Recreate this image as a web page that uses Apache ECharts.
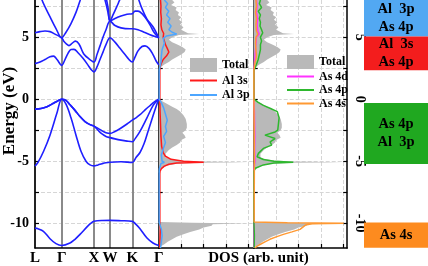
<!DOCTYPE html>
<html><head><meta charset="utf-8">
<script src="https://cdn.jsdelivr.net/npm/echarts@6.0.0/dist/echarts.min.js"></script>
<style>html,body{margin:0;padding:0;background:#fff}#c{width:428px;height:266px}</style>
</head><body><div id="c"></div>
<script>
// ---- k-path ----
const kTicks = [0, 26.7, 59, 75, 97.3, 123.7];
const kLabels = ['L', 'Γ', 'X', 'W', 'K', 'Γ'];
// ---- energy axis ----
const energyLabels = [-10, -5, 0, 5];
const energyGrid = [-10, -7.5, -5, -2.5, 0, 2.5, 5, 7.5];
const dosTicks = [1, 2, 3, 4];

// ---- bands [k, E(eV)] ----
const band1 = [[0,-10.4],[3,-10.45],[8.4,-10.65],[15,-11.25],[21,-11.65],[26.7,-11.8],[35,-11.6],[40,-11.3],[45,-10.9],[52,-10.3],[56,-10.0],[59,-9.85],[67,-9.78],[75,-9.77],[86,-9.8],[97.3,-9.85],[101,-10.1],[105,-10.45],[112,-11.2],[118,-11.6],[123.7,-11.8]];
const band2 = [[0,-5.4],[3,-5.1],[8.6,-4.2],[15,-2.9],[22,-1.1],[26.7,0],[31,-0.4],[36,-1.5],[41,-2.9],[46,-4.2],[51,-5.0],[55,-5.3],[59,-5.38],[63,-5.3],[67,-5.2],[71,-5.12],[75,-5.08],[86,-5.05],[97.3,-5.1],[101,-4.7],[105,-4.3],[109,-3.6],[113,-2.6],[117,-1.6],[121,-0.6],[123.7,0]];
const band3 = [[0,-0.8],[6,-0.75],[12,-0.6],[18,-0.35],[23,-0.12],[26.7,0],[31,-0.1],[35,-0.45],[40,-0.9],[45,-1.4],[50,-1.8],[55,-2.05],[59,-2.17],[63,-2.5],[67,-2.8],[71,-3.0],[75,-3.1],[80,-3.2],[86,-3.3],[92,-3.38],[97.3,-3.43],[100,-3.2],[105,-2.6],[111.7,-1.55],[118.3,-0.48],[123.7,0]];
const band4 = [[0,-0.8],[6,-0.75],[12,-0.6],[18,-0.35],[23,-0.12],[26.7,0],[31,-0.1],[35,-0.45],[40,-0.9],[45,-1.4],[50,-1.8],[55,-2.05],[59,-2.17],[63,-2.35],[67,-2.55],[71,-2.7],[75,-2.76],[80,-2.6],[85.3,-2.36],[92,-2.0],[97.3,-1.69],[101,-1.5],[105,-1.25],[109,-0.95],[113,-0.65],[117,-0.38],[120,-0.17],[123.7,0]];
const band5 = [[0,2.87],[5,3.0],[10,3.2],[15,3.42],[18.5,3.47],[22,3.2],[26.7,2.73],[30,3.2],[33,3.7],[36,4.0],[39,4.02],[43,3.75],[48,3.3],[53,2.75],[56,2.4],[59,2.2],[62,2.6],[65,3.2],[68,3.8],[71,4.4],[75,4.95],[80,4.6],[85,4.1],[90,3.6],[94,3.2],[97.3,3.0],[100,3.4],[103,3.9],[107,4.25],[110,4.3],[114,4.1],[118,3.6],[121,3.1],[123.7,2.78]];
const band6 = [[0,5.36],[5,5.45],[10,5.5],[15,5.45],[20,5.25],[26.7,4.95],[29,4.65],[31.3,4.47],[34,4.32],[37,4.5],[40.3,4.68],[44,4.45],[48.6,3.67],[54,3.25],[59,3.0],[62,3.6],[65,4.3],[68,5.0],[71,5.6],[75,6.3],[80,5.94],[86,5.75],[95,5.68],[97.3,5.68],[103,5.6],[109,5.4],[115,5.2],[120,5.05],[123.7,4.95]];
const band7 = [[0,9.8],[7,8.0],[15.3,6.6],[21,5.7],[26.7,4.95],[31,5.4],[36,6.1],[41,7.0],[45.3,8.0],[50,9.0],[59,10.0],[65,9.2],[70,8.0],[73,7.0],[75,6.3],[78,6.8],[82,7.5],[86,8.2],[97.3,9.5],[103,8.2],[107,7.3],[111.7,6.5],[118.3,5.8],[123.7,4.95]];
const band8 = [[62,11],[70,8.6],[73,7.4],[75,6.3],[80,6.5],[86,6.7],[92,6.85],[97.3,6.9],[100,7.1],[103,7.1],[107,6.9],[111,6.5],[115,6.0],[119,5.4],[123.7,4.95]];
const bands = [band1, band2, band3, band4, band5, band6, band7, band8];

// ---- DOS [E(eV), DOS] ----
const totalDOS = [[8.0,0.6],[7.8,0.7],[7.6,0.55],[7.4,0.8],[7.2,0.75],[7.0,0.9],[6.8,0.85],[6.6,1.0],[6.4,0.9],[6.2,1.05],[6.0,0.95],[5.8,1.1],[5.6,1.0],[5.45,1.15],[5.32,1.3],[5.26,1.8],[5.18,0.9],[5.0,0.6],[4.8,0.45],[4.6,0.6],[4.4,0.85],[4.2,1.05],[4.0,1.2],[3.8,1.15],[3.6,1.0],[3.4,0.8],[3.2,0.6],[3.0,0.45],[2.8,0.25],[2.6,0.1],[2.4,0.02],[2.3,0],[0,0],[-0.2,0.2],[-0.4,0.4],[-0.6,0.6],[-0.8,0.8],[-1.0,0.95],[-1.3,1.1],[-1.6,1.2],[-2.0,1.25],[-2.3,1.25],[-2.5,1.2],[-2.7,1.05],[-2.9,1.15],[-3.1,1.2],[-3.3,1.0],[-3.5,0.95],[-3.7,0.8],[-3.9,0.6],[-4.1,0.45],[-4.4,0.3],[-4.7,0.3],[-4.85,0.55],[-4.95,0.9],[-5.03,1.8],[-5.08,3.95],[-5.13,1.8],[-5.2,0.8],[-5.35,0.4],[-5.55,0.15],[-5.8,0.02],[-6.0,0],[-9.9,0],[-9.97,1.5],[-10.02,3.95],[-10.08,2.4],[-10.2,2.35],[-10.35,2.0],[-10.5,1.8],[-10.7,1.4],[-10.9,1.1],[-11.1,0.8],[-11.3,0.6],[-11.5,0.4],[-11.7,0.25],[-11.85,0.1],[-11.95,0]];
const al3s = [[8.0,0.08],[7.5,0.1],[7.0,0.09],[6.5,0.12],[6.0,0.1],[5.6,0.14],[5.3,0.22],[5.15,0.3],[5.0,0.2],[4.7,0.25],[4.4,0.3],[4.1,0.38],[3.8,0.45],[3.5,0.35],[3.2,0.2],[2.9,0.12],[2.6,0.06],[2.3,0.05],[0,0.05],[-1.0,0.06],[-2.0,0.08],[-3.0,0.1],[-3.8,0.13],[-4.3,0.2],[-4.6,0.3],[-4.85,0.55],[-5.0,1.1],[-5.08,2.0],[-5.15,0.8],[-5.25,0.45],[-5.4,0.25],[-5.6,0.12],[-5.8,0.06],[-6.0,0.05],[-9.9,0.05],[-10.0,0.08],[-10.5,0.07],[-11.0,0.06],[-11.5,0.05],[-12,0.05]];
const al3p = [[8.0,0.25],[7.7,0.4],[7.4,0.3],[7.1,0.45],[6.8,0.35],[6.5,0.5],[6.2,0.4],[5.9,0.55],[5.6,0.45],[5.4,0.6],[5.25,0.8],[5.1,0.35],[4.9,0.2],[4.5,0.25],[4.0,0.15],[3.5,0.12],[3.0,0.1],[2.6,0.05],[2.3,0.02],[0,0.02],[-0.3,0.12],[-0.7,0.22],[-1.2,0.3],[-1.7,0.38],[-2.2,0.3],[-2.6,0.35],[-3.0,0.22],[-3.5,0.3],[-4.0,0.2],[-4.5,0.12],[-5.0,0.15],[-5.08,0.25],[-5.2,0.1],[-5.6,0.03],[-6,0.02],[-9.9,0.02],[-10.0,0.06],[-10.5,0.12],[-11.0,0.15],[-11.5,0.12],[-12,0.08]];
const as4d = [[8,0.12],[7.5,0.15],[7,0.12],[6.5,0.18],[6,0.15],[5.5,0.18],[5.25,0.25],[5,0.12],[4.5,0.1],[4,0.08],[3.5,0.06],[3,0.04],[2.5,0.02],[2.3,0.01],[0,0.01],[-1,0.03],[-2,0.04],[-3,0.05],[-4,0.04],[-5,0.06],[-5.08,0.12],[-5.3,0.03],[-6,0.01],[-12,0.01]];
const as4p = [[8,0.3],[7.7,0.25],[7.4,0.35],[7.1,0.2],[6.8,0.3],[6.5,0.25],[6.2,0.3],[5.9,0.28],[5.6,0.35],[5.35,0.4],[5.22,0.45],[5.0,0.3],[4.7,0.35],[4.4,0.3],[4.0,0.3],[3.6,0.25],[3.2,0.2],[2.8,0.12],[2.5,0.05],[2.3,0.01],[0,0.01],[-0.25,0.2],[-0.5,0.43],[-0.75,0.75],[-1.0,1.05],[-1.5,1.13],[-2.0,1.1],[-2.5,1.07],[-2.64,0.95],[-2.9,0.5],[-3.17,0.95],[-3.44,0.73],[-3.7,0.8],[-3.97,0.43],[-4.37,0.21],[-4.64,0.15],[-4.86,0.43],[-5.0,0.9],[-5.08,1.76],[-5.15,0.9],[-5.3,0.43],[-5.57,0.07],[-5.8,0.01],[-9.9,0.01],[-10.0,0.03],[-11,0.03],[-12,0.02]];
const as4s = [[8,0.1],[7.5,0.12],[7,0.08],[6.5,0.12],[6,0.1],[5.5,0.12],[5.25,0.18],[5,0.1],[4.5,0.08],[4,0.1],[3.5,0.12],[3.2,0.1],[3,0.06],[2.6,0.03],[2.3,0.01],[0,0.01],[-5.08,0.03],[-9.9,0.02],[-9.96,1.5],[-10.0,4.0],[-10.05,2.6],[-10.15,2.3],[-10.3,2.25],[-10.5,2.06],[-10.7,1.7],[-10.9,1.32],[-11.1,1.0],[-11.3,0.72],[-11.5,0.5],[-11.7,0.3],[-11.85,0.15],[-12,0.05]];

// ---- orbital-character boxes (energy ranges) ----
const boxTop = [8.0, 5.05, -0.3, -9.95];
const boxBottom = [5.05, 2.33, -5.22, -11.98];
const boxLabels = ['Al  3p\nAs 4p', 'Al  3s\nAs 4p', 'As 4p\nAl  3p', 'As 4s'];

// ---- styles ----
const serif = "'Liberation Serif','Times New Roman',serif";
const boxColors = ['#52a8f2', '#f31d1d', '#20a820', '#fd8b1f'];
const pdosColors = {'Al 3s':'#ff1a1a','Al 3p':'#4da6ff','As 4d':'#ff33ff','As 4p':'#2eb82e','As 4s':'#ff9933'};
const gray = '#b9b9b9';
const axLine = {show:true, onZero:false, lineStyle:{color:'#000', width:1.5}};
const dashGrid = {show:true, lineStyle:{color:'#d6d6d6', type:'dashed', width:1}};
const labelFont = {fontFamily:serif, fontWeight:'bold', color:'#000'};

const chart = echarts.init(document.getElementById('c'), null, {renderer:'canvas'});

function dosPolygon(points) {
  return function (params, api) {
    const pts = [api.coord([0, points[0][0]])];
    points.forEach(p => pts.push(api.coord([p[1], p[0]])));
    pts.push(api.coord([0, points[points.length - 1][0]]));
    return {type:'polygon', shape:{points:pts}, style:{fill:gray}};
  };
}
function pdosLine(name, pts, xi, yi) {
  return {type:'line', name:name, xAxisIndex:xi, yAxisIndex:yi, data:pts.map(p => [p[1], p[0]]),
    symbol:'none', lineStyle:{color:pdosColors[name], width:1.5}, itemStyle:{color:pdosColors[name]},
    silent:true, animation:false, z:4};
}
function lineItem(name) {
  return {name:name, itemStyle:{opacity:0, borderWidth:0}, lineStyle:{width:2}};
}

const series = [];
bands.forEach(b => series.push({type:'line', xAxisIndex:0, yAxisIndex:0, data:b, smooth:0.35,
  symbol:'none', lineStyle:{color:'#1f1fff', width:1.6}, silent:true, animation:false, z:3}));
series.push({type:'custom', name:'Total', xAxisIndex:1, yAxisIndex:2, data:[[0,0]], renderItem:dosPolygon(totalDOS), itemStyle:{color:gray}, silent:true, animation:false, z:2});
series.push({type:'custom', name:'Total', xAxisIndex:2, yAxisIndex:3, data:[[0,0]], renderItem:dosPolygon(totalDOS), itemStyle:{color:gray}, silent:true, animation:false, z:2});
series.push(pdosLine('Al 3s', al3s, 1, 2));
series.push(pdosLine('Al 3p', al3p, 1, 2));
series.push(pdosLine('As 4d', as4d, 2, 3));
series.push(pdosLine('As 4p', as4p, 2, 3));
series.push(pdosLine('As 4s', as4s, 2, 3));
series.push({type:'custom', xAxisIndex:3, yAxisIndex:5, data:boxTop.map((t, i) => [0, t]), silent:true, animation:false,
  renderItem:function (params, api) {
    const i = params.dataIndex;
    const p1 = api.coord([0, boxTop[i]]), p2 = api.coord([1, boxBottom[i]]);
    return {type:'group', children:[
      {type:'rect', shape:{x:p1[0], y:p1[1], width:p2[0]-p1[0], height:p2[1]-p1[1]}, style:{fill:boxColors[i]}},
      {type:'text', x:(p1[0]+p2[0])/2, y:(p1[1]+p2[1])/2,
        style:{text:boxLabels[i], fill:'#000', fontFamily:serif, fontWeight:'bold', fontSize:14.5, lineHeight:18,
          align:'center', verticalAlign:'middle', textAlign:'center', textVerticalAlign:'middle'}}
    ]};
  }});

const legendCommon = {orient:'vertical', itemWidth:27, itemHeight:14, padding:0, selectedMode:false,
  textStyle:{fontFamily:serif, fontWeight:'bold', fontSize:12, color:'#000'}};

const option = {
  animation:false,
  backgroundColor:'#fff',
  grid:[
    {left:35, top:0, width:123.7, height:248, containLabel:false, outerBoundsMode:'none'},
    {left:158.7, top:0, width:95, height:248, containLabel:false, outerBoundsMode:'none'},
    {left:253.7, top:0, width:93.5, height:248, containLabel:false, outerBoundsMode:'none'},
    {left:364, top:0, width:64, height:248, containLabel:false, outerBoundsMode:'none'}
  ],
  xAxis:[
    {gridIndex:0, type:'value', min:0, max:123.7, position:'bottom', axisLine:axLine,
      axisTick:{show:false, customValues:kTicks},
      axisLabel:Object.assign({customValues:kTicks, margin:3, fontSize:15, showMinLabel:true, showMaxLabel:true,
        formatter:function (v) { const i = kTicks.indexOf(v); return i >= 0 ? kLabels[i] : ''; }}, labelFont),
      splitLine:{show:true, lineStyle:{color:'#8a8a8a', width:2}}},
    {gridIndex:1, type:'value', min:0, max:4.22, position:'bottom', axisLine:axLine,
      axisTick:{show:true, inside:true, length:4, customValues:dosTicks, lineStyle:{color:'#000', width:1.2}},
      axisLabel:{show:false}, splitLine:dashGrid},
    {gridIndex:2, type:'value', min:0, max:4.16, position:'bottom', axisLine:axLine,
      axisTick:{show:true, inside:true, length:4, customValues:dosTicks, lineStyle:{color:'#000', width:1.2}},
      axisLabel:{show:false}, splitLine:dashGrid},
    {gridIndex:3, type:'value', min:0, max:1, show:false}
  ],
  yAxis:[
    {gridIndex:0, type:'value', min:-12, max:8, position:'left', axisLine:axLine,
      axisTick:{show:true, inside:true, length:4, customValues:energyGrid, lineStyle:{color:'#000', width:1.2}},
      axisLabel:Object.assign({customValues:energyLabels, margin:6, fontSize:14}, labelFont),
      splitLine:dashGrid},
    {gridIndex:0, type:'value', min:-12, max:8, position:'right', axisLine:axLine,
      axisTick:{show:false}, axisLabel:{show:false}, splitLine:{show:false}},
    {gridIndex:1, type:'value', min:-12, max:8, position:'left', axisLine:axLine,
      axisTick:{show:true, inside:true, length:4, customValues:energyGrid, lineStyle:{color:'#000', width:1.2}},
      axisLabel:{show:false}, splitLine:dashGrid},
    {gridIndex:2, type:'value', min:-12, max:8, position:'left', axisLine:axLine,
      axisTick:{show:true, inside:true, length:4, customValues:energyGrid, lineStyle:{color:'#000', width:1.2}},
      axisLabel:{show:false}, splitLine:dashGrid},
    {gridIndex:2, type:'value', min:-12, max:8, position:'right', axisLine:axLine,
      axisTick:{show:true, inside:true, length:4, customValues:energyGrid, lineStyle:{color:'#000', width:1.2}},
      axisLabel:Object.assign({customValues:energyLabels, margin:5, fontSize:14, rotate:-90}, labelFont),
      splitLine:{show:false}},
    {gridIndex:3, type:'value', min:-12, max:8, show:false}
  ],
  legend:[
    Object.assign({left:189, top:58, itemGap:2.5, data:[{name:'Total', icon:'rect'}, lineItem('Al 3s'), lineItem('Al 3p')]}, legendCommon),
    Object.assign({left:286, top:55, itemGap:1.5, data:[{name:'Total', icon:'rect'}, lineItem('As 4d'), lineItem('As 4p'), lineItem('As 4s')]}, legendCommon)
  ],
  graphic:[
    {type:'text', x:10, y:111, rotation:Math.PI/2,
      style:{text:'Energy (eV)', fill:'#000', fontFamily:serif, fontWeight:'bold', fontSize:17,
        align:'center', verticalAlign:'middle', textAlign:'center', textVerticalAlign:'middle'}},
    {type:'text', x:258.5, y:258,
      style:{text:'DOS (arb. unit)', fill:'#000', fontFamily:serif, fontWeight:'bold', fontSize:15,
        align:'center', verticalAlign:'middle', textAlign:'center', textVerticalAlign:'middle'}}
  ],
  series:series
};
chart.setOption(option);
</script>
</body></html>
